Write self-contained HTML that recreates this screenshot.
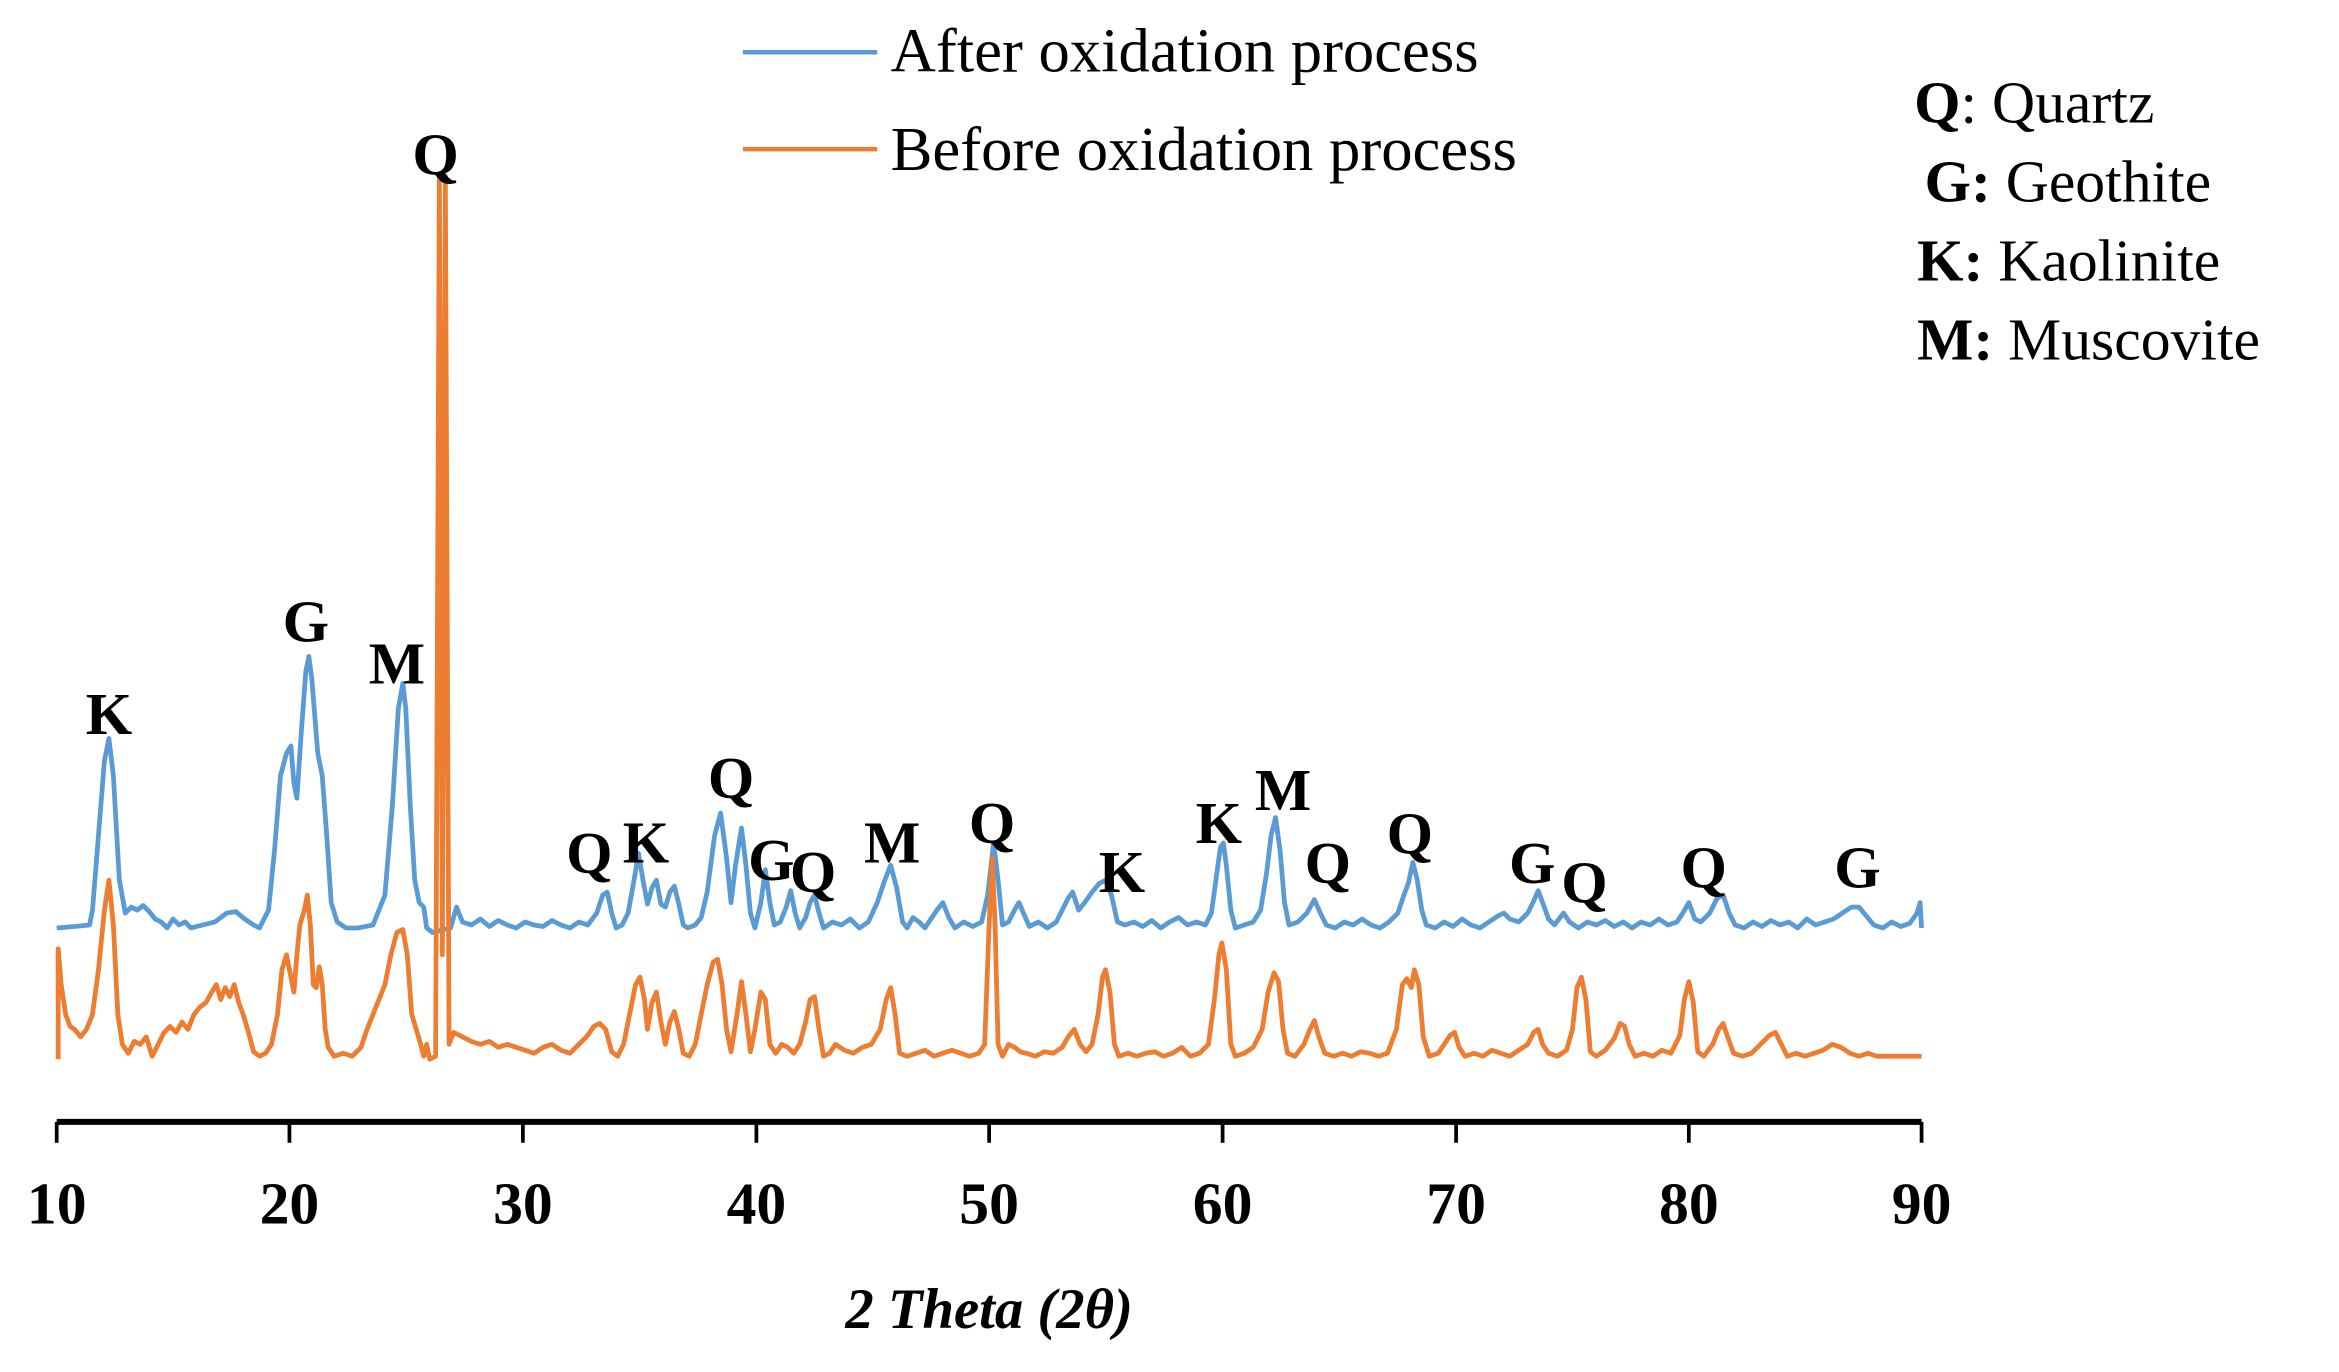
<!DOCTYPE html>
<html><head><meta charset="utf-8"><style>
html,body{margin:0;padding:0;background:#fff;}
svg{display:block;}
text{font-family:"Liberation Serif",serif;fill:#000;}
.pk{font-weight:bold;font-size:40px;text-anchor:middle;}
</style></head><body>
<svg width="2339" height="1372" viewBox="0 0 1567.8 919.6" preserveAspectRatio="xMinYMin meet" xmlns="http://www.w3.org/2000/svg">
<polyline fill="none" stroke="#5b9bd5" stroke-width="3.2" stroke-linejoin="round" points="38,622 50,621 60,620 62,610 66,560 70,510 73,495 76,520 80,590 84,612 88,608 92,610 96,607 100,611 104,616 108,618 112,622 116,616 120,620 124,618 128,622 136,620 144,618 152,612 158,611 164,616 170,620 174,622 180,610 184,570 188,520 192,505 195,500 197,525 199,535 202,490 205,450 207,440 209,455 211,480 213,505 216,520 219,560 222,605 226,618 232,622 240,622 250,620 258,600 263,540 267,475 270,458 272,475 275,540 278,590 281,605 284,608 286,622 290,625 302,622 306,608 310,618 316,620 322,616 328,621 334,617 340,620 346,622 352,618 358,620 364,621 370,617 376,620 382,622 388,618 394,620 400,612 404,600 407,598 410,612 413,622 417,620 421,612 425,590 428,572 431,590 434,606 437,595 440,590 443,606 446,608 449,598 452,594 455,606 458,620 461,622 466,620 470,615 474,598 479,560 483,545 487,575 490,605 493,580 497,555 500,580 503,612 506,622 510,605 513,583 516,605 519,620 523,618 527,608 530,597 533,612 536,622 540,615 543,605 546,600 549,612 552,622 558,618 564,620 570,616 576,622 582,618 588,605 593,590 597,580 601,595 605,618 608,622 612,615 616,618 620,622 624,616 628,610 632,605 636,615 640,622 646,618 652,621 658,618 662,600 666,565 669,590 672,620 676,618 680,610 683,605 686,612 690,621 696,618 702,622 708,618 712,610 716,602 719,598 723,610 727,605 732,598 737,592 741,590 745,600 749,618 754,620 760,618 766,621 772,617 778,622 784,618 790,615 796,620 802,618 808,620 812,612 815,590 818,568 820,565 822,580 825,610 828,622 834,620 840,618 845,610 849,585 852,560 855,548 858,570 861,605 864,620 870,618 876,612 881,603 885,612 889,620 895,622 901,618 907,620 913,616 919,620 925,622 931,618 937,612 941,600 944,592 947,578 950,590 953,610 956,620 962,622 968,618 974,621 980,616 986,620 992,622 998,618 1004,614 1008,612 1012,616 1018,618 1024,612 1028,604 1031,597 1034,605 1038,616 1042,620 1048,612 1052,618 1058,622 1064,618 1070,620 1076,617 1082,621 1088,618 1094,622 1100,618 1106,620 1112,616 1118,620 1124,618 1128,612 1132,605 1136,616 1140,618 1146,612 1151,602 1155,600 1159,612 1163,620 1169,622 1175,618 1181,621 1187,617 1193,620 1199,618 1205,622 1211,616 1217,620 1223,618 1229,616 1235,612 1241,608 1246,608 1251,614 1256,620 1262,622 1268,618 1274,621 1280,619 1285,612 1287,605 1288,622"/>
<polyline fill="none" stroke="#ed7d31" stroke-width="3.2" stroke-linejoin="round" points="39,710 39,636 41,660 44,680 47,688 50,690 54,695 58,690 62,680 66,650 70,610 73,590 76,620 79,680 82,700 86,706 90,698 94,700 98,695 102,708 106,700 110,692 114,688 118,692 122,685 126,690 130,680 134,675 138,672 142,665 145,660 148,670 151,662 154,668 157,660 160,672 163,680 166,690 170,705 174,708 178,706 182,700 186,680 189,650 192,640 195,655 197,665 199,640 201,620 204,610 206,600 208,620 210,660 212,662 214,648 216,660 218,690 220,702 224,708 230,706 236,708 242,702 246,690 250,680 254,670 258,660 262,640 266,625 270,623 273,640 276,680 279,690 282,700 284,708 286,700 288,710 292,708 294.5,118 296.5,640 298.5,118 301,700 304,692 310,695 316,698 322,700 328,698 334,702 340,700 346,702 352,704 358,706 364,702 370,700 376,704 382,706 388,700 394,694 398,688 402,686 406,690 410,705 414,708 418,700 422,680 426,660 429,655 432,670 434,690 437,672 440,665 443,685 446,700 449,685 452,678 455,690 458,706 462,708 466,700 470,680 474,660 478,645 481,643 484,660 487,690 490,705 494,680 497,658 500,680 503,705 506,690 510,665 513,670 516,700 520,706 524,700 528,702 532,706 536,700 540,685 543,670 546,668 549,690 552,708 556,706 560,700 566,704 572,706 578,702 584,700 590,690 594,670 597,662 600,680 603,706 608,708 614,706 620,704 626,708 632,706 638,704 644,706 650,708 656,706 660,700 663,620 665,575 667,620 669,700 672,708 676,700 680,702 684,705 688,706 694,708 700,705 706,706 712,702 716,695 720,690 724,700 728,705 732,700 736,680 739,655 741,650 744,665 747,700 750,708 756,706 762,708 768,706 774,705 780,708 786,706 792,702 798,708 804,706 810,700 814,670 817,640 819,632 822,650 825,700 828,708 834,706 840,702 846,690 850,665 854,652 857,658 860,690 863,706 868,708 874,700 878,690 881,684 884,695 888,706 894,708 900,706 906,708 912,705 918,706 924,708 930,706 936,690 940,660 943,656 946,662 948,650 951,660 954,695 958,708 964,706 968,700 972,694 975,692 978,702 982,708 988,706 994,708 1000,704 1006,706 1012,708 1018,704 1024,700 1028,692 1031,690 1034,700 1038,706 1044,708 1050,704 1054,690 1057,662 1060,655 1063,670 1066,705 1070,708 1076,704 1082,696 1086,686 1089,688 1092,700 1096,708 1102,706 1108,708 1114,704 1120,706 1126,694 1129,670 1132,658 1135,672 1138,705 1142,708 1148,700 1152,690 1155,686 1158,695 1162,706 1168,708 1174,706 1180,700 1186,694 1190,692 1194,700 1198,708 1204,706 1210,708 1216,706 1222,704 1228,700 1234,702 1240,706 1246,708 1252,706 1258,708 1264,708 1270,708 1280,708 1288,708"/>
<line x1="38" y1="752" x2="1288" y2="752" stroke="#000" stroke-width="4"/>
<g stroke="#000" stroke-width="2.5">
<line x1="38" y1="752" x2="38" y2="766"/><line x1="194" y1="752" x2="194" y2="766"/><line x1="350.5" y1="752" x2="350.5" y2="766"/><line x1="507" y1="752" x2="507" y2="766"/><line x1="663" y1="752" x2="663" y2="766"/><line x1="819.5" y1="752" x2="819.5" y2="766"/><line x1="976" y1="752" x2="976" y2="766"/><line x1="1132" y1="752" x2="1132" y2="766"/><line x1="1288" y1="752" x2="1288" y2="766"/>
</g>
<g font-weight="bold" font-size="40" text-anchor="middle">
<text x="38" y="820">10</text><text x="194" y="820">20</text><text x="350.5" y="820">30</text><text x="507" y="820">40</text><text x="663" y="820">50</text><text x="819.5" y="820">60</text><text x="976" y="820">70</text><text x="1132" y="820">80</text><text x="1288" y="820">90</text>
</g>
<text x="663" y="890" font-size="38" font-weight="bold" font-style="italic" text-anchor="middle">2 Theta (2θ)</text>
<line x1="498" y1="35" x2="588" y2="35" stroke="#5b9bd5" stroke-width="3"/>
<line x1="498" y1="100" x2="588" y2="100" stroke="#ed7d31" stroke-width="3"/>
<text x="597" y="48" font-size="42">After oxidation process</text>
<text x="597" y="114" font-size="42">Before oxidation process</text>
<g font-size="40">
<text x="1283" y="82"><tspan font-weight="bold">Q</tspan>: Quartz</text>
<text x="1290" y="135"><tspan font-weight="bold">G:</tspan> Geothite</text>
<text x="1285" y="188"><tspan font-weight="bold">K:</tspan> Kaolinite</text>
<text x="1285" y="241"><tspan font-weight="bold">M:</tspan> Muscovite</text>
</g>
<g class="pk">
<text x="73" y="492">K</text><text x="205" y="430">G</text><text x="266" y="458">M</text><text x="292" y="117">Q</text>
<text x="395" y="585">Q</text><text x="433" y="578">K</text><text x="490" y="535">Q</text><text x="517" y="590">G</text><text x="545" y="598">Q</text>
<text x="598" y="578">M</text><text x="665" y="565">Q</text><text x="752" y="598">K</text><text x="817" y="565">K</text><text x="860" y="543">M</text>
<text x="890" y="592">Q</text><text x="945" y="572">Q</text><text x="1027" y="592">G</text><text x="1062" y="605">Q</text><text x="1142" y="595">Q</text><text x="1245" y="595">G</text>
</g>
</svg>
</body></html>
